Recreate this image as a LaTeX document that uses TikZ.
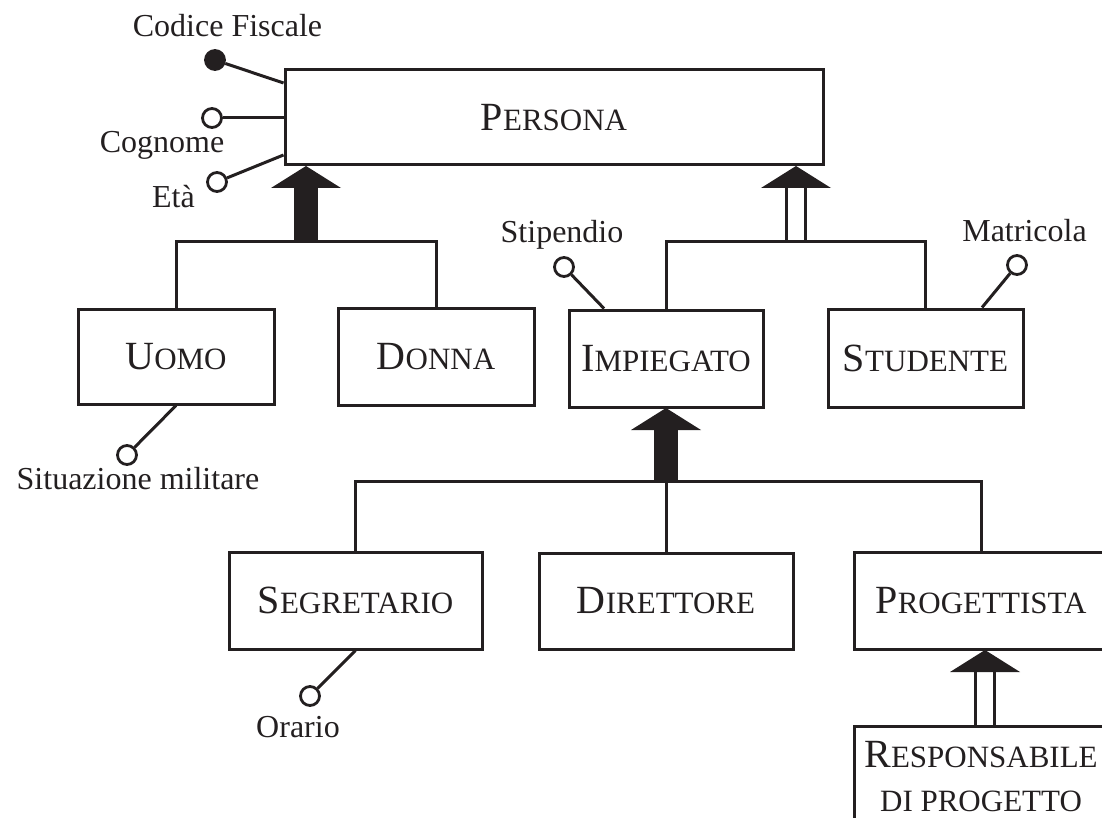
\documentclass[tikz,border=0pt]{standalone}
\usepackage{fontspec}
\setmainfont{Liberation Serif}
\definecolor{ink}{RGB}{35,31,32}
% small capitals: larger first letter, smaller capitals after it
\newcommand\capsc[2]{{\fontsize{40}{44}\selectfont #1}{\fontsize{31}{44}\selectfont #2}}
% generalisation with a total coverage: solid head and solid shaft
\newcommand\isafull[3]{% apex x, apex y, bar y
  \fill[ink] (#1,#2) -- (#1+35,#2+22) -- (#1-35,#2+22) -- cycle;
  \fill[ink] (#1-12,#2+21) rectangle (#1+12,#3);}
% partial generalisation: solid head and a hollow double shaft
\newcommand\isapart[3]{%
  \fill[ink] (#1,#2) -- (#1+35,#2+22) -- (#1-35,#2+22) -- cycle;
  \draw[link] (#1-9.5,#2+21) -- (#1-9.5,#3) (#1+9.5,#2+21) -- (#1+9.5,#3);}

\begin{document}
\begin{tikzpicture}[x=1pt,y=-1pt,
  ent/.style={draw=ink, line width=3pt, inner sep=0pt, align=center,
    font=\fontsize{31}{44}\selectfont, text=ink},
  lbl/.style={inner sep=0pt, anchor=base, font=\fontsize{32}{36}\selectfont, text=ink},
  attr/.style={circle, draw=ink, line width=2.8pt, fill=white, minimum size=19pt, inner sep=0pt},
  key/.style={attr, fill=ink},
  link/.style={draw=ink, line width=3pt},
]
\useasboundingbox (0,0) rectangle (1102,818);
\clip (0,0) rectangle (1102,818);

% entities
\node[ent, minimum width=538pt, minimum height=95pt] (persona) at (554,117.5) {\capsc{P}{ERSONA}};
\node[ent, minimum width=196pt, minimum height=95pt] (uomo) at (176,356.5) {\capsc{U}{OMO}};
\node[ent, minimum width=196pt, minimum height=97pt] (donna) at (436,356.5) {\capsc{D}{ONNA}};
\node[ent, minimum width=194pt, minimum height=97pt] (impiegato) at (666,358.5) {\capsc{I}{MPIEGATO}};
\node[ent, minimum width=195pt, minimum height=98pt] (studente) at (925.5,358) {\capsc{S}{TUDENTE}};
\node[ent, minimum width=253pt, minimum height=97pt] (segretario) at (355.5,600.5) {\capsc{S}{EGRETARIO}};
\node[ent, minimum width=254pt, minimum height=96pt] (direttore) at (666,601) {\capsc{D}{IRETTORE}};
\node[ent, minimum width=254pt, minimum height=97pt] (progettista) at (981,600.5) {\capsc{P}{ROGETTISTA}};
\node[ent, minimum width=254pt, minimum height=102pt] (responsabile) at (981,777)
  {\capsc{R}{ESPONSABILE}\\{\fontsize{31}{44}\selectfont DI PROGETTO}};

% Persona -> Uomo, Donna (total)
\isafull{306}{166}{242}
\coordinate (j1) at (306,242);
\draw[link] (uomo.north) |- (j1) -| (donna.north);

% Persona -> Impiegato, Studente (partial)
\isapart{796}{166}{242}
\coordinate (j2) at (796,242);
\draw[link] (impiegato.north) |- (j2) -| (studente.north);

% Impiegato -> Segretario, Direttore, Progettista (total)
\isafull{666}{408}{481}
\coordinate (j3) at (666,481);
\draw[link] (segretario.north) |- (j3) -| (progettista.north);
\draw[link] (direttore.north) -- (j3);

% Progettista -> Responsabile di progetto (partial)
\isapart{985}{650}{726}

% attributes
\node[key] (cf) at (215,60) {};
\node[lbl] (cfl) at (227.5,37) {Codice Fiscale};
\draw[link] (cf) -- ([yshift=34.5pt]persona.west);

\node[attr] (cog) at (212,118) {};
\node[lbl] (cogl) at (162,153) {Cognome};
\draw[link] (cog) -- (cog -| persona.west);

\node[attr] (eta) at (217,182) {};
\node[lbl] (etal) at (173.5,208) {Età};
\draw[link] (eta) -- ([yshift=-37.5pt]persona.west);

\node[attr] (sti) at (564,267) {};
\node[lbl] (stil) at (562,243) {Stipendio};
\draw[link] (sti) -- ([xshift=-62pt]impiegato.north);

\node[attr] (mat) at (1017,265) {};
\node[lbl] (matl) at (1024.5,242) {Matricola};
\draw[link] (mat) -- ([xshift=56.5pt]studente.north);

\node[attr] (sit) at (127,455) {};
\node[lbl] (sitl) at (138,489) {Situazione militare};
\draw[link] (sit) -- (uomo.south);

\node[attr] (ora) at (310,696) {};
\node[lbl] (oral) at (298,737) {Orario};
\draw[link] (ora) -- (segretario.south);
\end{tikzpicture}
\end{document}
